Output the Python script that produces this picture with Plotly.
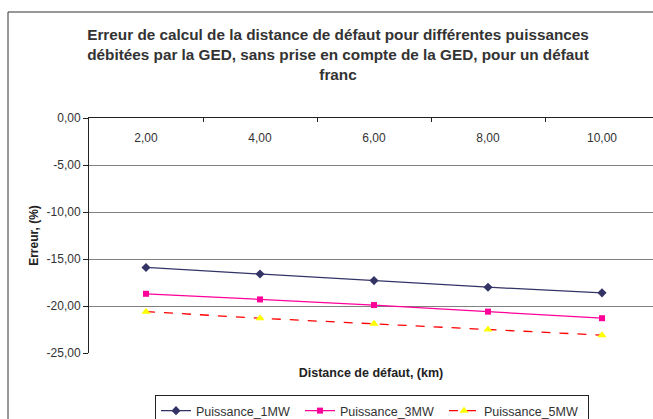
import plotly.graph_objects as go

categories = ["2,00", "4,00", "6,00", "8,00", "10,00"]
p1 = [-15.9, -16.6, -17.3, -18.0, -18.6]
p3 = [-18.7, -19.3, -19.9, -20.6, -21.3]
p5 = [-20.6, -21.3, -21.9, -22.5, -23.1]
y_ticks = [0, -5, -10, -15, -20, -25]
y_labels = ["0,00", "-5,00", "-10,00", "-15,00", "-20,00", "-25,00"]
boundaries = [1.5, 2.5, 3.5, 4.5]

xpos = [1, 2, 3, 4, 5]
FONT = "Liberation Sans, Arial, sans-serif"

fig = go.Figure()
fig.add_trace(go.Scatter(x=xpos, y=p1, name="Puissance_1MW", mode="lines+markers",
                         line=dict(color="#333366", width=1.3),
                         marker=dict(symbol="diamond", size=7, color="#333366")))
fig.add_trace(go.Scatter(x=xpos, y=p3, name="Puissance_3MW", mode="lines+markers",
                         line=dict(color="#FF0099", width=1.3),
                         marker=dict(symbol="square", size=6, color="#FF0099")))
fig.add_trace(go.Scatter(x=xpos, y=p5, name="Puissance_5MW", mode="lines+markers",
                         line=dict(color="#FF0000", width=1.3, dash="dash"),
                         marker=dict(symbol="triangle-up", size=8, color="#FFFF00")))
# helper traces to activate the overlay axes
fig.add_trace(go.Scatter(x=[None], y=[None], xaxis="x2", showlegend=False, hoverinfo="skip"))
fig.add_trace(go.Scatter(x=[None], y=[None], xaxis="x3", showlegend=False, hoverinfo="skip"))

fig.update_layout(
    width=653, height=419,
    margin=dict(l=89, r=0, t=118, b=66, autoexpand=False),
    paper_bgcolor="white", plot_bgcolor="white",
    font=dict(family=FONT, size=12, color="#333"),
    title=dict(text="<b>Erreur de calcul de la distance de défaut pour différentes puissances<br>débitées par la GED, sans prise en compte de la GED, pour un défaut<br>franc</b>",
               x=338 / 653, xanchor="center", y=1 - 40 / 419, yanchor="middle",
               font=dict(family=FONT, size=15.3, color="#333")),
    xaxis=dict(range=[0.5, 0.5 + 564 / 114], side="top", automargin=False,
               tickvals=boundaries, showticklabels=False,
               ticks="inside", ticklen=4, tickcolor="#222",
               showline=True, linecolor="#222", linewidth=1,
               showgrid=False, zeroline=False),
    xaxis2=dict(overlaying="x", matches="x", side="bottom", anchor="y", automargin=False,
                showticklabels=False, ticks="", showgrid=False, showline=False, zeroline=False,
                title=dict(text="<b>Distance de défaut, (km)</b>", standoff=15,
                           font=dict(size=12.5, color="#222"))),
    xaxis3=dict(overlaying="x", matches="x", side="bottom", anchor="free", position=0.955,
                automargin=False,
                tickvals=xpos, ticktext=categories, ticks="",
                tickfont=dict(size=12, color="#333"),
                showgrid=False, showline=False, zeroline=False),
    yaxis=dict(range=[-25, 0], tickvals=y_ticks, ticktext=y_labels, automargin=False,
               ticks="outside", ticklen=5, tickcolor="#222",
               showline=True, linecolor="#222", linewidth=1,
               showgrid=True, gridcolor="#808080", gridwidth=1, zeroline=False,
               tickfont=dict(size=12, color="#333"),
               title=dict(text="<b>Erreur, (%)</b>", standoff=5,
                          font=dict(size=12, color="#222"))),
    legend=dict(orientation="h", x=(372 - 89) / 564, xanchor="center",
                y=(353 - 395) / 235, yanchor="top",
                bordercolor="#222", borderwidth=1, font=dict(size=12.5, color="#333"),
                entrywidth=99, entrywidthmode="pixels", tracegroupgap=0),
    showlegend=True,
)

fig.add_shape(type="rect", xref="paper", yref="paper",
              x0=(8 - 89) / 564, x1=1.2, y0=-1.0, y1=(353 - 12) / 235,
              line=dict(color="#333", width=1), fillcolor="rgba(0,0,0,0)", layer="below")

fig.write_html("out.html", config={"displayModeBar": False},
               post_script="document.body.style.margin='0';")
